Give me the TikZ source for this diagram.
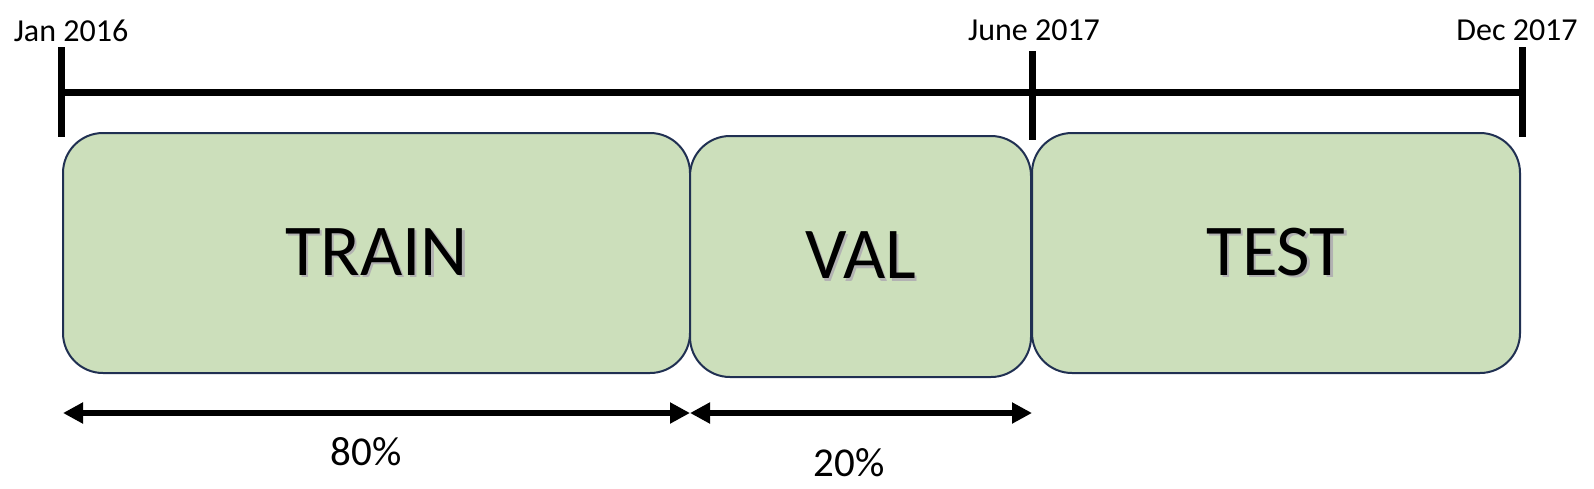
\documentclass[tikz,border=0pt]{standalone}
\usepackage{fontspec}
\setmainfont{Carlito}
\usetikzlibrary{arrows.meta}

\definecolor{boxgreen}{RGB}{204,223,187}
\definecolor{boxedge}{RGB}{32,48,82}

% soft drop shadow behind the split names
\newcommand\shadowed[1]{\rlap{\hspace{1.2pt}\raisebox{-1.2pt}{\textcolor{black!30}{#1}}}#1}

\tikzset{
    splitbox/.style={draw=boxedge, line width=1pt, fill=boxgreen,
        rounded corners=20pt, inner sep=0pt, outer sep=0pt,
        font=\fontsize{36.5}{40}\selectfont},
    timeline/.style={line width=3.5pt},
    spanarrow/.style={line width=3.2pt,
        {Triangle[length=10pt,width=10pt]}-{Triangle[length=10pt,width=10pt]}},
    datelabel/.style={anchor=base, font=\fontsize{16}{19}\selectfont},
    pctlabel/.style={font=\fontsize{20.5}{24}\selectfont}
}

\begin{document}
\begin{tikzpicture}[x=0.5pt, y=-0.5pt]
    \useasboundingbox (0,0) rectangle (1594,488);

    % time axis
    \coordinate (jan) at (61,92);
    \coordinate (june) at (1032,92);
    \coordinate (dec) at (1522,92);
    \draw[timeline] (jan) -- (dec);
    \draw[timeline] (61,47) -- (61,137);
    \draw[timeline] (1032,51) -- (1032,140);
    \draw[timeline] (1522,47) -- (1522,137);

    \node[datelabel] (janlabel) at (71,41) {Jan 2016};
    \node[datelabel] (junelabel) at (1034,40) {June 2017};
    \node[datelabel] (declabel) at (1517,40) {Dec 2017};

    % the three splits
    \node[splitbox, minimum width=313.5pt, minimum height=120pt] (train) at (376.5,253) {\shadowed{TRAIN}};
    \node[splitbox, minimum width=170.5pt, minimum height=120.5pt] (val) at (860.5,256.5) {\shadowed{VAL}};
    \node[splitbox, minimum width=244pt, minimum height=120pt] (test) at (1276,253) {\shadowed{TEST}};

    % share of train / val
    \coordinate (a0) at (63,413);
    \coordinate (a1) at (690,413);
    \coordinate (a2) at (1032,413);
    \draw[spanarrow] (a0) -- (a1);
    \draw[spanarrow] (a1) -- (a2);

    \node[pctlabel] (trainpct) at (366,452) {80\%};
    \node[pctlabel] (valpct) at (849,463) {20\%};
\end{tikzpicture}
\end{document}
